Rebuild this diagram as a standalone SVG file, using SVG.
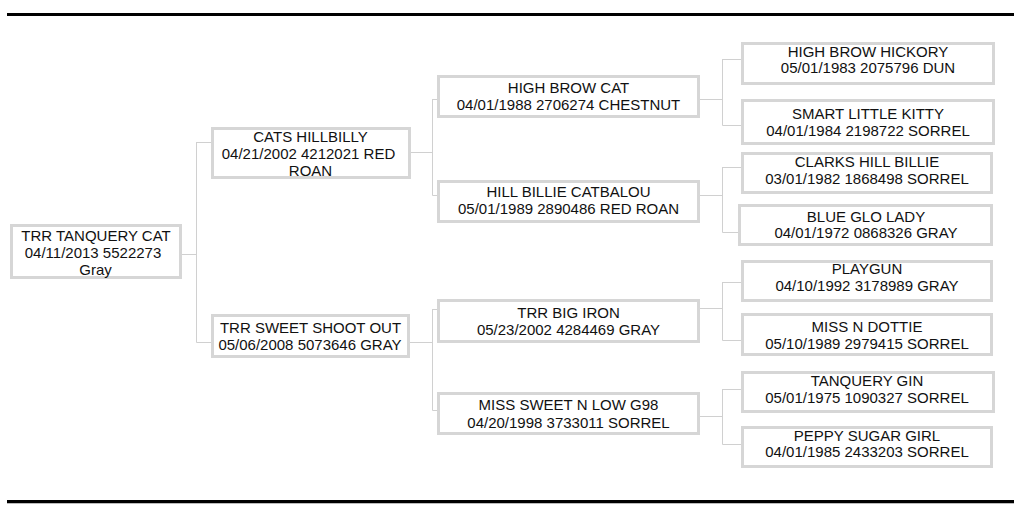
<svg xmlns="http://www.w3.org/2000/svg" width="1024" height="516" viewBox="0 0 1024 516">
<style>
.box{fill:#fff;stroke:#d6d6d6;stroke-width:3}
.t{font-family:"Liberation Sans",Arial,sans-serif;font-size:15px;fill:#111;text-anchor:middle}
.c{stroke:#d0d0d0;stroke-width:1;fill:none}
</style>
<rect x="0" y="0" width="1024" height="516" fill="#fff"/>
<rect x="7" y="13" width="1007" height="3" fill="#000"/>
<rect x="7" y="500" width="1007" height="3" fill="#000"/>
<line x1="7" y1="503.5" x2="1014" y2="503.5" stroke="#bbbbbb" stroke-width="1"/>
<g id="connectors" class="c">
<path d="M182 254.5H196.5M196.5 142V342.5M196.5 142.5H211M196.5 342.5H211"/>
<path d="M411 152.5H432.5M432.5 99V195.5M432.5 99.5H437M432.5 195.5H437"/>
<path d="M410 342.5H432.5M432.5 309V410.5M432.5 309.5H437M432.5 410.5H437"/>
<path d="M700 99.5H722.5M722.5 59V125.5M722.5 59.5H741M722.5 125.5H741"/>
<path d="M700 195.5H722.5M722.5 167V232.5M722.5 167.5H741M722.5 232.5H738"/>
<path d="M700 308.5H722.5M722.5 282V340.5M722.5 282.5H741M722.5 340.5H741"/>
<path d="M700 416.5H722.5M722.5 389V444.5M722.5 389.5H741M722.5 444.5H741"/>
</g>
<g id="n-root"><rect class="box" x="11.5" y="225.5" width="169" height="52"/>
<text class="t" x="96" y="240.5">TRR TANQUERY CAT</text><text class="t" x="93" y="257.5">04/11/2013 5522273</text><text class="t" x="95.5" y="274.5">Gray</text></g>
<g id="n-sire"><rect class="box" x="212.5" y="128.5" width="197" height="49"/>
<text class="t" x="310.5" y="142">CATS HILLBILLY</text><text class="t" x="308.5" y="159">04/21/2002 4212021 RED</text><text class="t" x="310.5" y="175.5">ROAN</text></g>
<g id="n-dam"><rect class="box" x="212.5" y="315.5" width="196" height="41"/>
<text class="t" x="310.5" y="333">TRR SWEET SHOOT OUT</text><text class="t" x="310" y="350">05/06/2008 5073646 GRAY</text></g>
<g id="n-ss"><rect class="box" x="438.5" y="76.5" width="260" height="40"/>
<text class="t" x="568.5" y="92.5">HIGH BROW CAT</text><text class="t" x="568.5" y="109.5">04/01/1988 2706274 CHESTNUT</text></g>
<g id="n-sd"><rect class="box" x="438.5" y="181.5" width="260" height="40"/>
<text class="t" x="568.5" y="197">HILL BILLIE CATBALOU</text><text class="t" x="568.5" y="214">05/01/1989 2890486 RED ROAN</text></g>
<g id="n-ds"><rect class="box" x="438.5" y="300.5" width="260" height="41"/>
<text class="t" x="568.5" y="317.5">TRR BIG IRON</text><text class="t" x="568.5" y="334.5">05/23/2002 4284469 GRAY</text></g>
<g id="n-dd"><rect class="box" x="438.5" y="393.5" width="260" height="40"/>
<text class="t" x="568.5" y="410">MISS SWEET N LOW G98</text><text class="t" x="568.5" y="427.5">04/20/1998 3733011 SORREL</text></g>
<g id="n-sss"><rect class="box" x="742.5" y="43.5" width="251" height="40"/>
<text class="t" x="868" y="56.5">HIGH BROW HICKORY</text><text class="t" x="868" y="73">05/01/1983 2075796 DUN</text></g>
<g id="n-ssd"><rect class="box" x="742.5" y="100.5" width="251" height="43"/>
<text class="t" x="868" y="119">SMART LITTLE KITTY</text><text class="t" x="868" y="136">04/01/1984 2198722 SORREL</text></g>
<g id="n-sds"><rect class="box" x="742.5" y="153.5" width="249" height="39"/>
<text class="t" x="867" y="167">CLARKS HILL BILLIE</text><text class="t" x="867" y="184">03/01/1982 1868498 SORREL</text></g>
<g id="n-sdd"><rect class="box" x="739.5" y="205.5" width="252" height="39"/>
<text class="t" x="866" y="221.5">BLUE GLO LADY</text><text class="t" x="866" y="238">04/01/1972 0868326 GRAY</text></g>
<g id="n-dss"><rect class="box" x="742.5" y="261.5" width="249" height="39"/>
<text class="t" x="867" y="274">PLAYGUN</text><text class="t" x="867" y="290.5">04/10/1992 3178989 GRAY</text></g>
<g id="n-dsd"><rect class="box" x="742.5" y="314.5" width="249" height="40"/>
<text class="t" x="867" y="332">MISS N DOTTIE</text><text class="t" x="867" y="348.5">05/10/1989 2979415 SORREL</text></g>
<g id="n-dds"><rect class="box" x="742.5" y="372.5" width="251" height="39"/>
<text class="t" x="867" y="386">TANQUERY GIN</text><text class="t" x="867" y="402.5">05/01/1975 1090327 SORREL</text></g>
<g id="n-ddd"><rect class="box" x="742.5" y="427.5" width="249" height="39"/>
<text class="t" x="867" y="440.5">PEPPY SUGAR GIRL</text><text class="t" x="867" y="457">04/01/1985 2433203 SORREL</text></g>
</svg>
